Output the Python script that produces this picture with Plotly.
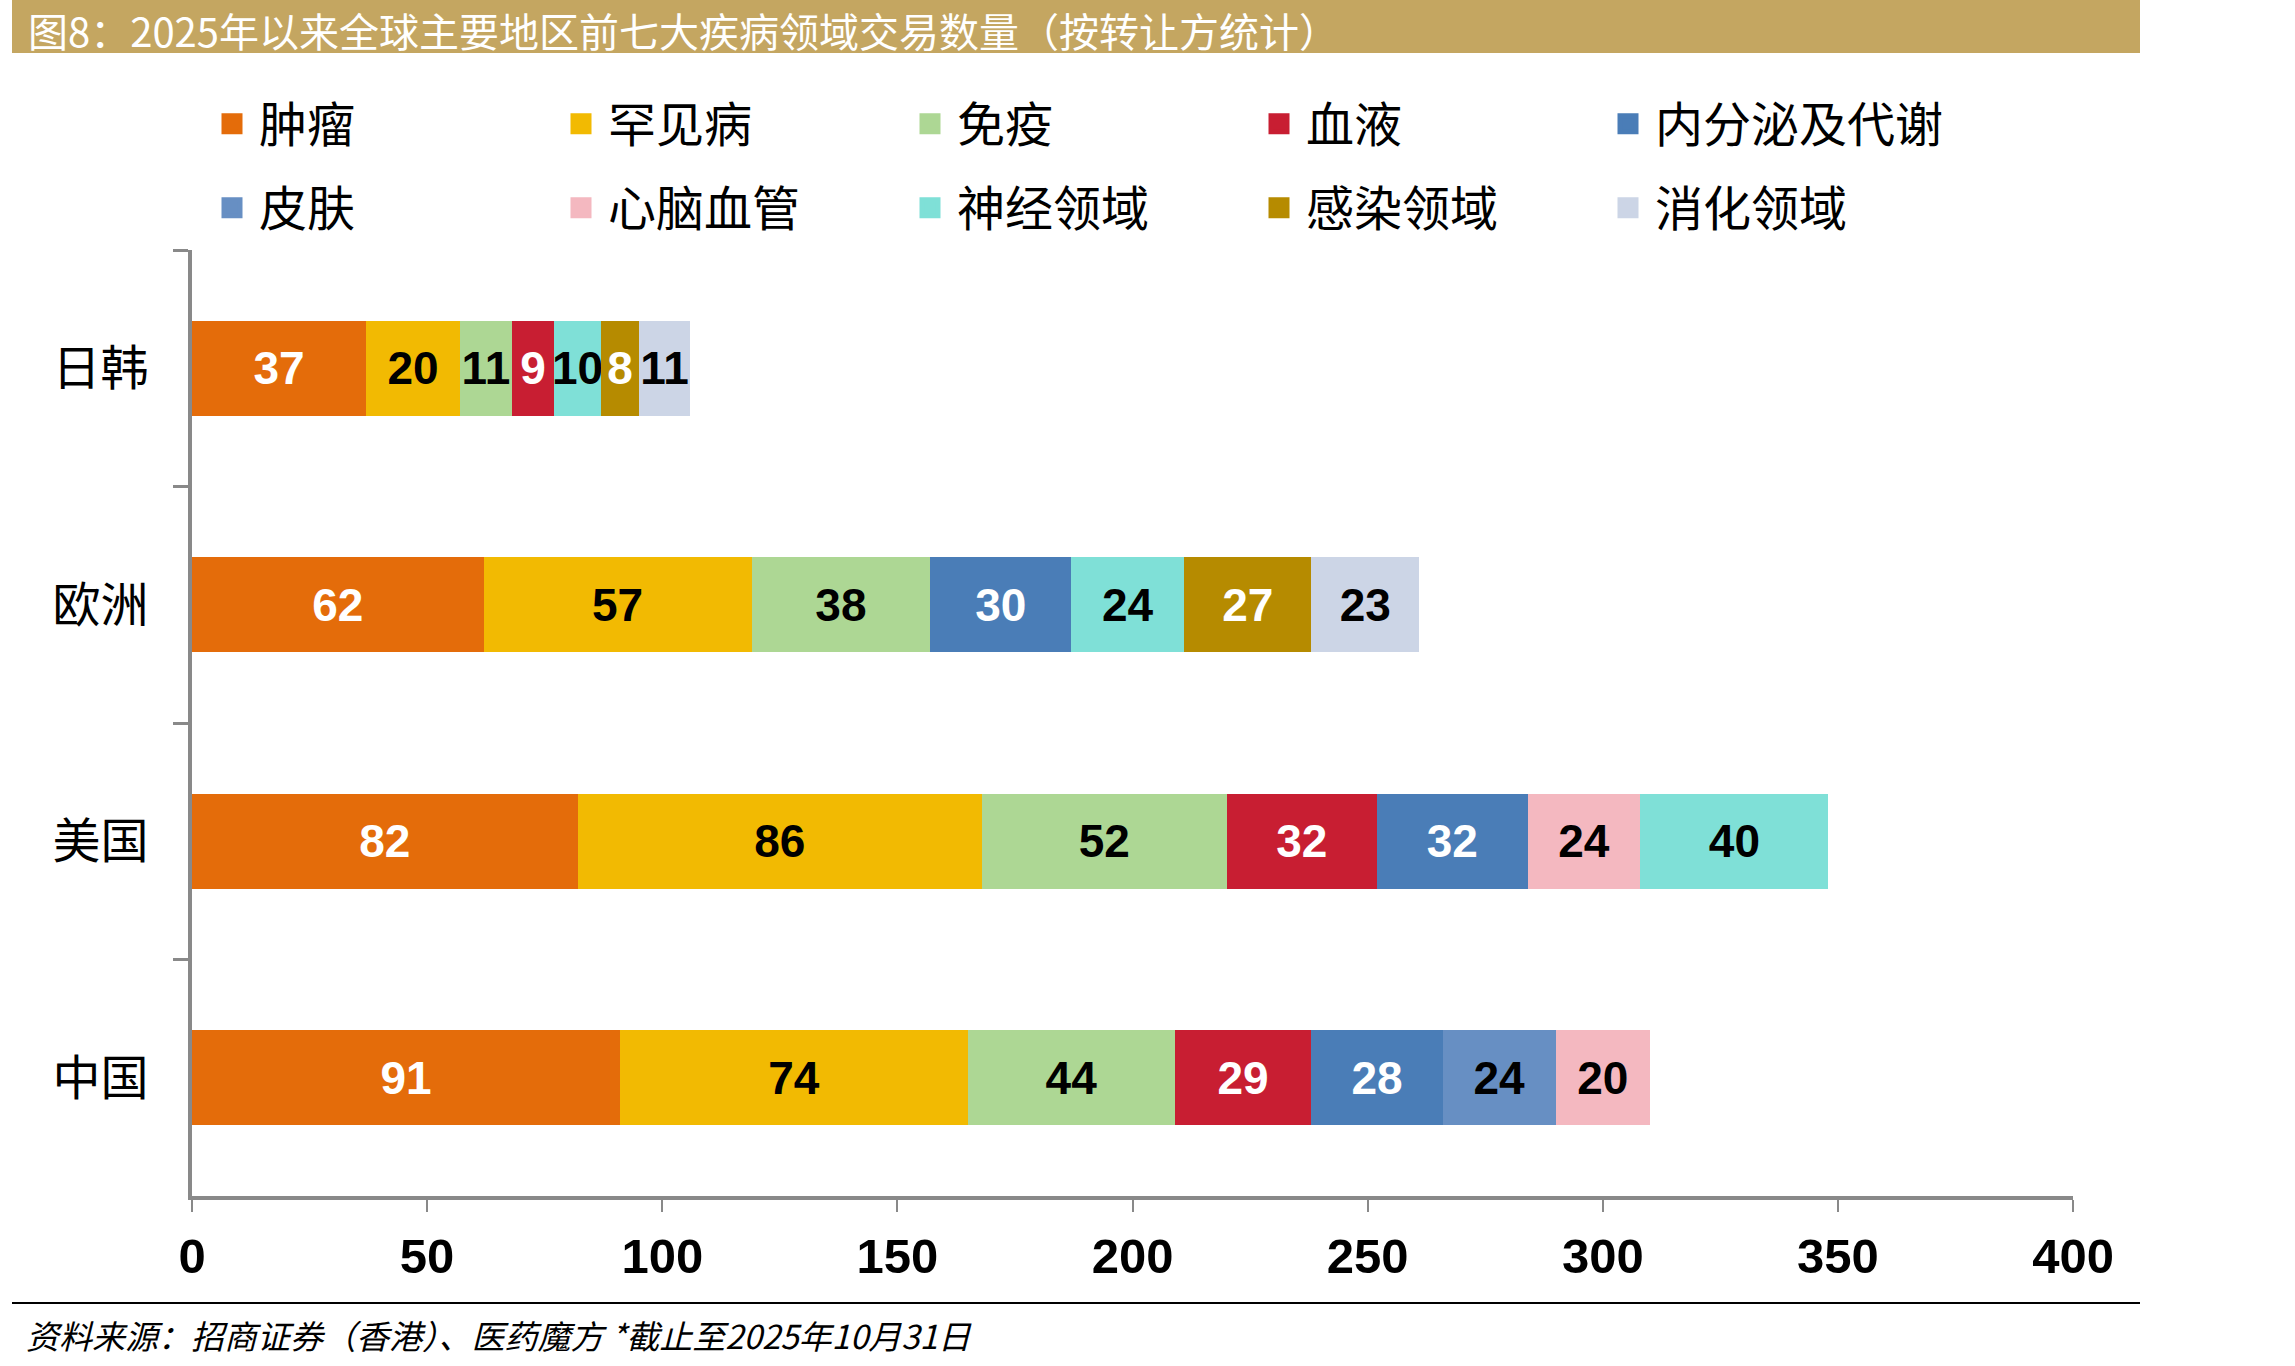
import plotly.graph_objects as go

# ---------------- data ----------------
regions = ['日韩', '欧洲', '美国', '中国']
series_names = ['肿瘤', '罕见病', '免疫', '血液', '内分泌及代谢',
                '皮肤', '心脑血管', '神经领域', '感染领域', '消化领域']
tumor = [37, 62, 82, 91]
rare = [20, 57, 86, 74]
immune = [11, 38, 52, 44]
blood = [9, None, 32, 29]
endocrine = [None, 30, 32, 28]
skin = [None, None, None, 24]
cardio = [None, None, 24, 20]
neuro = [10, 24, 40, None]
infection = [8, 27, None, None]
digestive = [11, 23, None, None]
x_ticks = [0, 50, 100, 150, 200, 250, 300, 350, 400]

series_values = [tumor, rare, immune, blood, endocrine,
                 skin, cardio, neuro, infection, digestive]
colors = ['#E46C0A', '#F2BA02', '#ADD794', '#C81E32', '#4A7DB7',
          '#678FC3', '#F4B8C0', '#7FE0D7', '#B68B00', '#CCD5E6']
text_colors = ['white', 'black', 'black', 'white', 'white',
               'black', 'black', 'black', 'white', 'black']

title_text = '图8：2025年以来全球主要地区前七大疾病领域交易数量（按转让方统计）'
source_text = '资料来源：招商证券（香港）、医药魔方 *截止至2025年10月31日'

# ---------------- geometry ----------------
W, H = 2295, 1366
L, R, T, B = 192, 222, 250, 170
PW, PH = W - L - R, H - T - B


def px2x(px):
    return (px - L) / PW


def px2y(py):
    return (H - B - py) / PH


AXIS_GRAY = '#898989'
NUM_FONT = 'Liberation Sans, Arial, sans-serif'
CJK_FONT = 'Noto Sans CJK SC, sans-serif'

fig = go.Figure()
for i, (name, vals) in enumerate(zip(series_names, series_values)):
    legend_id = 'legend' if i < 5 else 'legend2'
    fig.add_trace(go.Bar(
        name=name,
        y=regions,
        x=vals,
        orientation='h',
        marker=dict(color=colors[i], line=dict(width=0)),
        texttemplate='%{x}',
        textposition='inside',
        insidetextanchor='middle',
        textangle=0,
        constraintext='none',
        textfont=dict(family=NUM_FONT, size=46, color=text_colors[i], weight='bold'),
        legendgroup=name,
        showlegend=False,
        legend=legend_id,
        hoverinfo='x+name',
    ))
    # legend key (larger square swatch than the default bar icon)
    fig.add_trace(go.Scatter(
        name=name, x=[None], y=[None], mode='markers',
        marker=dict(symbol='square', size=16, color=colors[i],
                    line=dict(width=5, color=colors[i])),
        legendgroup=name, showlegend=True, legend=legend_id,
        hoverinfo='skip',
    ))

legend_common = dict(
    orientation='h', xanchor='left', yanchor='middle',
    entrywidth=290, entrywidthmode='pixels',
    font=dict(family=CJK_FONT, size=48, color='black'),
    bgcolor='rgba(0,0,0,0)', traceorder='normal', itemwidth=44,
    itemsizing='trace',
)

fig.update_layout(
    width=W, height=H,
    margin=dict(l=L, r=R, t=T, b=B),
    paper_bgcolor='white', plot_bgcolor='white',
    barmode='stack', bargap=0.6,
    showlegend=True,
    legend=dict(x=px2x(205), y=px2y(124), **legend_common),
    legend2=dict(x=px2x(205), y=px2y(208), **legend_common),
    xaxis=dict(
        range=[0, 400], tickvals=x_ticks, ticktext=[str(v) for v in x_ticks],
        showgrid=False, zeroline=False,
        showline=True, linecolor=AXIS_GRAY, linewidth=4,
        ticks='outside', ticklen=12, tickwidth=2, tickcolor=AXIS_GRAY,
        tickfont=dict(family=NUM_FONT, size=49, color='black', weight='bold'),
        ticklabelstandoff=2,
    ),
    yaxis=dict(
        categoryorder='array', categoryarray=regions,
        range=[3.5, -0.5],
        showgrid=False, zeroline=False,
        showline=True, linecolor=AXIS_GRAY, linewidth=4,
        ticks='outside', tickson='boundaries', ticklen=15, tickwidth=3, tickcolor=AXIS_GRAY,
        tickfont=dict(family=CJK_FONT, size=48, color='black'),
        ticklabelstandoff=30,
    ),
    shapes=[
        dict(type='rect', xref='paper', yref='paper',
             x0=px2x(12), x1=px2x(2140), y0=px2y(53), y1=px2y(0),
             fillcolor='#C4A661', line=dict(width=0), layer='below'),
        dict(type='line', xref='paper', yref='paper',
             x0=px2x(12), x1=px2x(2140), y0=px2y(1303), y1=px2y(1303),
             line=dict(color='black', width=2)),
    ],
    annotations=[
        dict(text=title_text, xref='paper', yref='paper',
             x=px2x(26), y=px2y(30), xanchor='left', yanchor='middle',
             showarrow=False, font=dict(family=CJK_FONT, size=40, color='white')),
        dict(text='<i>' + source_text + '</i>', xref='paper', yref='paper',
             x=px2x(24), y=px2y(1335), xanchor='left', yanchor='middle',
             showarrow=False, font=dict(family=CJK_FONT, size=33, color='black')),
    ],
)

fig.write_html('out.html')
